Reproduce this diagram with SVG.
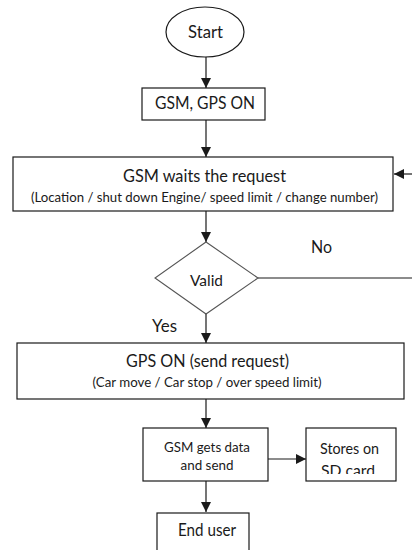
<svg xmlns="http://www.w3.org/2000/svg" width="412" height="550" viewBox="0 0 412 550">
  <style>
    .shape { fill: #fff; stroke: #1a1a1a; stroke-width: 1.2; }
    .diamond { fill: #fff; stroke: #555; stroke-width: 1.1; }
    .wire { fill: none; stroke: #1a1a1a; stroke-width: 1.2; }
    text { font-family: Lato, "Liberation Sans", sans-serif; fill: #1a1a1a; text-anchor: middle; }
    .big { font-size: 16.5px; }
    .mid { font-size: 15px; }
    .small { font-size: 13px; }
    .box-text { font-size: 14px; }
    .lbl { font-size: 17px; text-anchor: start; }
  </style>
  <defs>
    <marker id="arrow" viewBox="0 0 10 10" refX="10" refY="5" markerWidth="10" markerHeight="10" markerUnits="userSpaceOnUse" orient="auto">
      <path d="M0,0 L10,5 L0,10 Z" fill="#1a1a1a"/>
    </marker>
    <!-- text area of the SD-card box; the second line overflows it -->
    <clipPath id="storesClip">
      <rect x="306" y="428" width="90" height="46"/>
    </clipPath>
  </defs>

  <rect width="412" height="550" fill="#fff"/>

  <!-- connectors -->
  <g id="connectors">
    <line class="wire" x1="206" y1="57" x2="206" y2="88" marker-end="url(#arrow)"/>
    <line class="wire" x1="206" y1="120" x2="206" y2="157" marker-end="url(#arrow)"/>
    <line class="wire" x1="412" y1="174" x2="394" y2="174" marker-end="url(#arrow)"/>
    <line class="wire" x1="206" y1="211" x2="206" y2="242" marker-end="url(#arrow)"/>
    <line class="wire" x1="258" y1="278" x2="412" y2="278"/>
    <line class="wire" x1="206" y1="314" x2="206" y2="343" marker-end="url(#arrow)"/>
    <line class="wire" x1="206" y1="399" x2="206" y2="428" marker-end="url(#arrow)"/>
    <line class="wire" x1="268" y1="459" x2="306" y2="459" marker-end="url(#arrow)"/>
    <line class="wire" x1="206" y1="481" x2="206" y2="512" marker-end="url(#arrow)"/>
    <text class="lbl" x="311" y="253" textLength="21" lengthAdjust="spacingAndGlyphs">No</text>
    <text class="lbl" x="152" y="332" textLength="25" lengthAdjust="spacingAndGlyphs">Yes</text>
  </g>

  <!-- nodes -->
  <g id="start">
    <ellipse class="shape" cx="205" cy="32" rx="39" ry="25"/>
    <text class="big" x="205.5" y="38" textLength="35" lengthAdjust="spacingAndGlyphs">Start</text>
  </g>

  <g id="power-on">
    <rect class="shape" x="142" y="88" width="123" height="32"/>
    <text class="big" x="205" y="108.5" textLength="100" lengthAdjust="spacingAndGlyphs">GSM, GPS ON</text>
  </g>

  <g id="wait-request">
    <rect class="shape" x="13" y="157" width="380" height="54"/>
    <text class="big" x="204.5" y="182" textLength="163" lengthAdjust="spacingAndGlyphs">GSM waits the request</text>
    <text class="small" x="204.5" y="202" textLength="347" lengthAdjust="spacingAndGlyphs">(Location / shut down Engine/ speed limit / change number)</text>
  </g>

  <g id="valid">
    <polygon class="diamond" points="206,242 258,278 206,314 155,278"/>
    <text class="mid" x="206.5" y="286" textLength="33" lengthAdjust="spacingAndGlyphs">Valid</text>
  </g>

  <g id="send-request">
    <rect class="shape" x="17" y="343" width="387" height="56"/>
    <text class="big" x="207.5" y="367" textLength="163" lengthAdjust="spacingAndGlyphs">GPS ON (send request)</text>
    <text class="small" x="207" y="387" textLength="229" lengthAdjust="spacingAndGlyphs">(Car move / Car stop / over speed limit)</text>
  </g>

  <g id="gets-data">
    <rect class="shape" x="143" y="428" width="125" height="53"/>
    <text class="box-text" x="207" y="451.5" textLength="86" lengthAdjust="spacingAndGlyphs">GSM gets data</text>
    <text class="box-text" x="207" y="470" textLength="53" lengthAdjust="spacingAndGlyphs">and send</text>
  </g>

  <g id="stores">
    <rect class="shape" x="306" y="428" width="90" height="53"/>
    <g clip-path="url(#storesClip)">
      <text class="mid" x="349.5" y="454" textLength="59" lengthAdjust="spacingAndGlyphs">Stores on</text>
      <text class="mid" x="348" y="476" textLength="54" lengthAdjust="spacingAndGlyphs">SD card</text>
    </g>
  </g>

  <g id="end-user">
    <rect class="shape" x="157" y="513" width="92" height="50"/>
    <text class="big" x="207" y="536" textLength="58" lengthAdjust="spacingAndGlyphs">End user</text>
  </g>
</svg>
